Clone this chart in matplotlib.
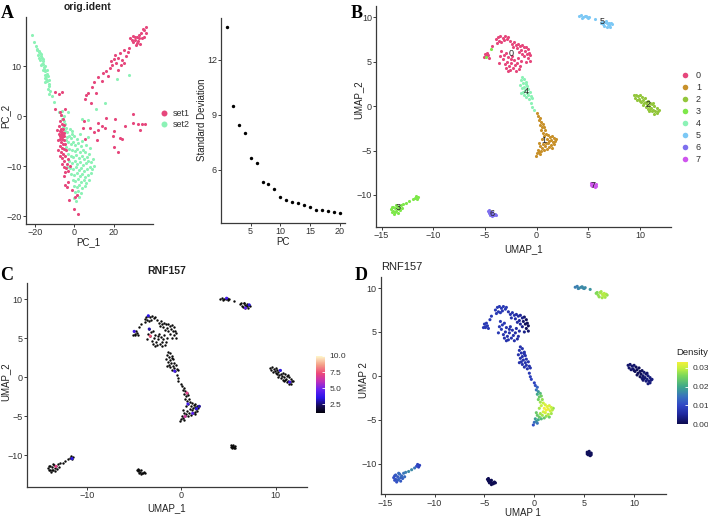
import numpy as np
import matplotlib
matplotlib.use('Agg')
import matplotlib.pyplot as plt
from matplotlib.colors import LinearSegmentedColormap, Normalize
from matplotlib.cm import ScalarMappable
from matplotlib.lines import Line2D

plt.rcParams['font.family'] = ['Liberation Sans', 'DejaVu Sans']

# ---------------- DATA ----------------
# Panel A (PCA) - set1 / set2 cells: (PC_1, PC_2)
set1_pts = [
    (36.5, 17.8), (35.2, 17.2), (36.2, 16.6), (34.0, 16.6), (35.5, 15.9), (33.0, 15.6), (31.0, 15.3),
    (32.2, 15.0), (30.0, 14.8), (33.2, 14.5), (31.5, 14.2), (29.2, 15.2), (34.3, 15.6), (28.5, 15.6),
    (32.6, 16.3), (30.6, 15.8), (31.8, 15.9), (30.0, 16.0), (34.8, 17.5), (32.0, 14.6),
    (27.5, 13.6), (25.0, 13.2), (23.0, 12.6), (26.2, 12.1), (22.0, 11.6), (24.0, 11.2), (20.2, 11.5),
    (21.0, 10.6), (19.0, 10.2), (25.2, 10.6), (18.0, 9.6), (16.0, 9.1), (22.0, 9.2), (14.5, 8.6),
    (17.0, 8.0), (12.2, 7.8), (14.0, 7.0), (10.2, 6.8), (9.0, 5.8), (7.0, 4.6), (5.5, 3.5), (8.4, 2.6),
    (11.0, 4.6), (6.2, 4.2), (20.5, 12.3), (23.6, 10.2), (27.0, 12.8), (18.6, 11.0),
    (4.7, -2.4), (4.9, -1.0), (8.1, -2.4), (9.8, -3.1), (12.0, -2.8), (12.3, -1.3), (11.4, -4.8),
    (5.6, -4.5), (15.7, -2.3), (16.2, -0.3), (20.8, -0.6), (20.4, -2.9), (24.1, -4.5), (25.5, -2.0),
    (20.4, -6.1), (22.4, -7.1), (23.3, -4.4), (19.9, -4.0), (30.0, 0.4), (29.6, -1.3), (32.3, -1.6),
    (34.2, -1.5), (36.0, -1.5), (33.4, -2.8), (14.0, -1.9),
    (-9.5, 4.9), (-7.5, 4.4), (-6.0, 4.8), (-9.6, 1.5), (-7.0, 0.9), (-4.5, 1.4),
    (-6.5, 0.2), (-5.5, -0.5), (-7.0, -1.0), (-6.0, -1.5), (-5.0, -1.8), (-7.5, -2.0), (-6.8, -2.5),
    (-5.8, -2.6), (-7.2, -3.0), (-6.2, -3.2), (-5.3, -3.3), (-7.6, -3.5), (-6.6, -3.6), (-5.6, -3.8),
    (-7.0, -4.0), (-6.0, -4.2), (-5.0, -4.0), (-7.4, -4.5), (-6.4, -4.6), (-5.4, -4.8), (-6.8, -5.2),
    (-5.8, -5.5), (-4.8, -5.6), (-7.2, -6.0), (-6.2, -6.4), (-5.2, -6.5), (-8.0, -6.8), (-6.6, -7.2),
    (-5.6, -7.5), (-7.4, -8.0), (-4.6, -8.0), (-6.0, -8.4), (-5.0, -9.0), (-3.8, -9.5), (-6.4, -9.6),
    (-4.2, -10.4), (-5.4, -10.2), (-3.2, -11.0), (-4.5, -11.1), (-5.2, -12.0), (-2.9, -13.1),
    (-4.9, -13.8), (-1.2, -14.8), (-2.5, -16.8), (0.5, -16.1), (1.4, -15.8), (0.0, -18.6), (1.7, -19.5),
    (-3.5, -14.2), (-8.5, -2.8), (-8.2, -4.8), (-4.0, -6.8), (-3.2, -8.6), (-2.2, -10.0),
]
set2_pts = [
    (-21.5, 16.2), (-20.3, 14.8), (-19.2, 14.0), (-18.6, 13.4), (-18.0, 13.0), (-17.4, 12.6), (-18.4, 12.2),
    (-17.0, 12.0), (-16.4, 11.6), (-17.2, 11.2), (-16.0, 11.0), (-15.6, 10.5), (-16.8, 10.2), (-15.0, 10.0),
    (-15.2, 9.5), (-14.6, 9.0), (-16.0, 9.2), (-14.0, 8.5), (-15.0, 8.2), (-13.5, 8.0), (-14.2, 7.5),
    (-13.6, 7.0), (-13.0, 6.5), (-14.6, 6.8), (-12.6, 6.0), (-13.2, 5.5), (-12.2, 5.0), (-12.6, 4.5),
    (-11.2, 4.0), (-17.8, 12.8), (-16.6, 12.4), (-15.8, 11.4), (-15.4, 9.8), (-14.4, 8.0), (-13.8, 9.2),
    (-12.8, 7.2), (-19.0, 13.2), (-17.6, 11.6), (-16.2, 10.4), (-14.8, 7.6), (-10.2, 2.8),
    (-7.8, 0.8), (-6.8, 0.2), (-6.0, -0.6), (-5.2, -1.0), (-4.6, -1.6), (-5.6, -2.2), (-4.0, -2.4),
    (-4.8, -3.0), (-3.4, -3.2), (-2.2, -2.6), (-1.0, -3.0), (-5.0, 0.0), (-6.2, 1.0),
    (-3.8, -4.2), (-2.6, -4.0), (-1.4, -4.4), (0.0, -4.0), (1.2, -4.6), (-3.0, -5.2), (-1.8, -5.6),
    (-0.6, -5.2), (0.6, -5.8), (2.0, -5.4), (3.2, -6.0), (-4.0, -6.2), (-2.4, -6.6), (-1.0, -6.8),
    (0.4, -7.0), (1.6, -6.6), (3.0, -7.2), (4.4, -6.8), (5.6, -7.2), (-3.2, -7.6), (-1.8, -8.0),
    (-0.4, -8.2), (1.0, -7.8), (2.4, -8.4), (3.8, -8.0), (5.0, -8.6), (6.4, -8.2), (7.6, -7.6),
    (-2.8, -9.0), (-1.2, -9.4), (0.2, -9.0), (1.6, -9.6), (3.0, -9.2), (4.4, -9.8), (5.8, -9.4),
    (7.0, -9.0), (8.4, -9.2), (-2.0, -10.4), (-0.6, -10.6), (0.8, -10.2), (2.2, -10.8), (3.6, -10.4),
    (5.0, -11.0), (6.4, -10.6), (7.8, -10.2), (9.2, -10.6), (-1.4, -11.6), (0.0, -11.8), (1.4, -11.4),
    (2.8, -12.0), (4.2, -11.6), (5.6, -12.2), (7.0, -11.8), (8.6, -11.4), (-0.8, -12.8), (0.6, -13.0),
    (2.0, -12.6), (3.4, -13.2), (4.8, -12.8), (6.2, -13.4), (7.6, -12.8), (-0.2, -14.0), (1.2, -14.2),
    (2.6, -13.8), (4.0, -14.4), (5.4, -14.0), (0.4, -15.2), (1.8, -15.0), (3.2, -15.4), (0.0, -16.4),
    (1.0, -17.0), (2.2, -16.2), (6.0, -5.8), (4.0, -5.0), (9.6, -8.6), (10.2, -10.0), (8.0, -6.4),
    (-3.6, -10.2), (-1.0, -3.6), (6.8, -4.2), (-4.4, -4.8), (2.8, -3.6),
    (21.6, 7.4), (27.5, 8.2), (15.4, 2.7), (11.1, 1.4), (6.9, -0.8), (3.9, -0.6), (-3.0, 0.8),
]

# Panel A (elbow) - standard deviation of PCs 1..20
pcs = list(range(1, 21))
pc_sd = [13.8, 9.51, 8.45, 8.03, 6.65, 6.38, 5.33, 5.25, 4.95, 4.51,
         4.35, 4.27, 4.20, 4.11, 3.96, 3.82, 3.83, 3.78, 3.73, 3.64]

# UMAP clusters: (UMAP_1, UMAP_2, RNF157 density)
c0 = [(-3.9, 7.5, .008), (-3.7, 7.8, .008), (-3.5, 7.9, .008), (-3.3, 7.7, .008), (-3.1, 7.9, .008),
      (-2.9, 7.6, .008), (-3.6, 7.3, .008), (-3.2, 7.4, .008), (-2.8, 7.8, .008), (-3.8, 7.1, .008),
      (-3.4, 7.2, .008),
      (-2.6, 7.3, .007), (-2.4, 7.0, .007), (-2.2, 7.2, .007), (-2.0, 6.9, .007), (-1.8, 7.0, .006),
      (-1.6, 6.8, .006), (-1.4, 6.9, .005), (-1.2, 6.6, .004), (-1.0, 6.7, .002), (-0.8, 6.4, .001),
      (-2.3, 6.6, .007), (-1.9, 6.5, .006), (-1.5, 6.3, .005), (-1.1, 6.2, .002), (-0.7, 6.0, .001),
      (-0.6, 5.7, .001), (-0.9, 5.9, .001), (-0.8, 5.4, .001), (-1.2, 5.6, .004), (-0.6, 5.1, .002),
      (-1.0, 5.0, .004), (-1.4, 5.9, .005), (-1.7, 6.1, .006),
      (-3.4, 6.2, .008), (-3.2, 5.8, .008), (-3.0, 6.0, .008), (-2.8, 5.5, .007), (-3.3, 5.3, .008),
      (-3.5, 5.6, .008), (-2.9, 5.0, .007), (-3.1, 4.7, .007), (-2.7, 4.5, .007), (-2.5, 4.9, .007),
      (-2.3, 4.3, .007), (-2.6, 4.1, .007), (-2.1, 4.6, .007), (-1.9, 4.9, .006), (-2.2, 5.2, .007),
      (-1.8, 5.4, .006), (-1.6, 4.5, .006), (-2.0, 4.0, .007), (-1.5, 5.1, .006), (-2.4, 5.6, .007),
      (-3.6, 4.9, .008), (-3.0, 4.3, .007), (-2.8, 4.0, .007), (-1.7, 4.2, .006), (-2.5, 5.3, .007),
      (-5.0, 5.9, .008), (-4.9, 5.6, .008), (-4.8, 6.0, .008), (-4.7, 5.7, .008), (-5.1, 5.5, .008),
      (-4.6, 5.4, .008), (-4.3, 6.8, .008)]
c1 = [(0.0, -0.8, .009), (0.1, -1.1, .011), (0.3, -1.3, .013), (0.2, -1.6, .015), (0.4, -1.8, .018),
      (0.3, -2.1, .020), (0.6, -2.0, .022), (0.5, -2.4, .024), (0.7, -2.3, .025), (0.4, -2.7, .025),
      (0.8, -2.7, .027), (0.6, -3.0, .028), (0.9, -3.1, .030), (1.1, -3.3, .031), (0.7, -3.4, .030),
      (1.3, -3.5, .032), (1.5, -3.4, .031), (1.7, -3.6, .030), (1.8, -3.9, .029), (1.6, -4.0, .030),
      (1.4, -3.8, .032), (1.2, -3.9, .033), (1.0, -3.7, .033), (1.7, -4.3, .028), (1.4, -4.4, .029),
      (1.1, -4.2, .031), (0.9, -4.1, .031), (1.2, -4.6, .027), (0.8, -4.5, .028), (0.6, -4.3, .028),
      (0.5, -4.7, .024), (0.3, -4.5, .024), (0.7, -4.9, .022), (0.4, -5.0, .020), (0.2, -5.2, .017),
      (0.1, -4.9, .019), (0.3, -5.4, .015), (0.0, -5.3, .014), (-0.1, -5.6, .011), (1.9, -3.7, .027),
      (1.5, -4.7, .025), (1.0, -4.8, .024), (0.5, -3.7, .028), (0.2, -4.2, .024)]
c2 = [(9.4, 1.2, .002), (9.6, 1.3, .002), (9.8, 1.1, .002), (9.5, 0.9, .002), (10.0, 1.2, .002),
      (10.2, 1.0, .001), (9.9, 0.8, .002), (10.3, 0.7, .001), (10.5, 0.9, .001), (10.1, 0.5, .001),
      (10.6, 0.5, .001), (10.4, 0.3, .001), (10.8, 0.6, .001), (10.7, 0.2, .001), (11.0, 0.4, .002),
      (10.9, 0.0, .002), (11.2, 0.2, .002), (11.1, -0.2, .002), (11.4, 0.0, .003), (11.3, -0.4, .003),
      (11.6, -0.2, .003), (11.5, -0.6, .003), (11.7, -0.5, .003), (11.2, -0.6, .003), (11.0, -0.3, .002),
      (10.6, -0.1, .001), (10.3, 0.1, .001), (11.6, -0.8, .003), (11.4, -0.9, .003), (10.9, -0.5, .002),
      (11.8, -0.4, .003), (10.0, 0.6, .001), (9.7, 0.7, .002), (10.8, -0.3, .002), (11.3, 0.3, .002)]
c3 = [(-14.1, -11.6, .011), (-14.0, -11.9, .011), (-13.9, -11.3, .012), (-13.8, -12.1, .011),
      (-13.7, -11.5, .012), (-13.6, -11.8, .013), (-13.5, -11.2, .014), (-13.4, -12.0, .012),
      (-13.3, -11.4, .014), (-13.2, -11.7, .013), (-13.9, -11.8, .011), (-13.6, -11.1, .014),
      (-13.1, -11.1, .015), (-13.0, -11.5, .014), (-12.9, -11.0, .016), (-12.6, -10.9, .017),
      (-12.3, -10.7, .017), (-12.0, -10.5, .015), (-11.8, -10.3, .010), (-11.6, -10.4, .009),
      (-11.5, -10.2, .009), (-11.7, -10.1, .009), (-13.7, -11.9, .012), (-14.0, -11.4, .011),
      (-13.4, -11.6, .013), (-4.45, 6.4, .008), (-4.9, 5.5, .008)]
c4 = [(-1.4, 3.3, .007), (-1.2, 3.1, .007), (-1.5, 2.9, .007), (-1.3, 2.6, .007), (-1.0, 2.7, .007),
      (-1.6, 2.4, .007), (-1.2, 2.2, .007), (-0.9, 2.3, .007), (-1.4, 2.0, .007), (-1.1, 1.8, .007),
      (-0.8, 1.9, .007), (-1.3, 1.6, .007), (-0.9, 1.5, .007), (-0.6, 1.6, .007), (-1.2, 1.3, .007),
      (-0.8, 1.2, .007), (-0.5, 1.1, .007), (-1.0, 1.0, .007), (-0.7, 0.8, .007), (-0.4, 0.9, .007),
      (-1.5, 1.5, .007), (-1.0, 2.5, .007), (-0.5, 0.3, .008), (-0.4, -0.1, .009), (-0.3, -0.4, .009)]
c5 = [(4.1, 10.1, .016), (4.3, 10.2, .016), (4.5, 10.0, .017), (4.7, 10.1, .017), (4.9, 10.0, .017),
      (5.1, 10.05, .017), (4.4, 9.95, .016), (4.8, 10.15, .017), (5.0, 9.95, .017), (5.6, 9.85, .018),
      (6.2, 9.4, .026), (6.4, 9.2, .027), (6.6, 9.5, .028), (6.8, 9.3, .029), (7.0, 9.4, .029),
      (7.2, 9.3, .028), (7.3, 9.2, .027), (6.5, 9.0, .027), (6.8, 8.9, .028), (7.0, 9.1, .029),
      (6.7, 9.6, .028), (6.3, 9.5, .026), (6.9, 9.2, .029), (7.1, 8.95, .028)]
c6 = [(-4.7, -11.8, .0005), (-4.6, -12.0, .0005), (-4.5, -11.9, .0005), (-4.4, -12.1, .0005),
      (-4.3, -11.9, .0005), (-4.2, -12.2, .0005), (-4.1, -12.3, .0005), (-4.0, -12.1, .0005),
      (-4.5, -12.2, .0005), (-4.3, -12.4, .0005), (-4.6, -11.7, .0005), (-3.9, -12.2, .0005)]
c7 = [(5.3, -8.7, .001), (5.4, -8.8, .001), (5.5, -8.6, .001), (5.6, -8.9, .001), (5.7, -8.8, .001),
      (5.4, -9.0, .001), (5.6, -9.1, .001), (5.5, -8.9, .001), (5.3, -8.9, .001), (5.7, -9.0, .001)]
clusters = [c0, c1, c2, c3, c4, c5, c6, c7]
cluster_names = ['0', '1', '2', '3', '4', '5', '6', '7']
cluster_colors = ['#E6477C', '#C8912B', '#93C63C', '#7EE84A', '#8CF2B6', '#7CC8F5', '#7E70EE', '#CF55EE']

# RNF157 expression of expressing cells: (cluster, cell index, value); all others 0
rnf157_expr = [(0, 2, 3.5), (0, 59, 4.0), (0, 38, 7.5), (0, 34, 3.0),
               (1, 6, 7.0), (1, 14, 4.0), (1, 19, 3.5), (1, 27, 4.5), (1, 39, 3.0), (1, 33, 6.5),
               (2, 8, 3.5), (2, 21, 4.0), (3, 8, 7.0), (3, 19, 3.5), (4, 18, 4.0),
               (5, 7, 4.0), (5, 18, 4.5), (5, 15, 3.5)]

# ---------------- FIGURE ----------------
W, H = 708, 518
fig = plt.figure(figsize=(W / 100, H / 100), dpi=100)
fig.patch.set_facecolor('white')


def ax_px(l, t, r, b):
    return fig.add_axes([l / W, 1 - b / H, (r - l) / W, (b - t) / H])


def ftext(x, y, s, **kw):
    kw.setdefault('ha', 'center')
    kw.setdefault('va', 'center')
    fig.text(x / W, 1 - y / H, s, **kw)


def style(ax):
    for s in ['top', 'right']:
        ax.spines[s].set_visible(False)
    for s in ['left', 'bottom']:
        ax.spines[s].set_color('#3a3a3a')
        ax.spines[s].set_linewidth(0.9)
    ax.tick_params(labelsize=6.5, colors='#3a3a3a', labelcolor='#333333',
                   length=2.0, width=0.7, pad=1.2)


TXT = '#222222'

# ---- Panel A left: PCA ----
axA = ax_px(26, 16.5, 153, 223.5)
style(axA)
s2 = np.array(set2_pts)
s1 = np.array(set1_pts)
axA.scatter(s2[:, 0], s2[:, 1], s=5, c='#8CF2B6', linewidths=0)
axA.scatter(s1[:, 0], s1[:, 1], s=5, c='#E6477C', linewidths=0)
axA.set_xlim(-24.4, 39.9)
axA.set_ylim(-21.5, 19.9)
axA.set_xticks([-20, 0, 20])
axA.set_yticks([-20, -10, 0, 10])
ftext(88, 7, 'orig.ident', fontsize=7.5, fontweight='bold', color=TXT)
ftext(88, 242, 'PC_1', fontsize=7, color=TXT)
ftext(5, 116, 'PC_2', fontsize=7, color=TXT, rotation=90)
hA = [Line2D([], [], marker='o', ls='', color=c, markersize=4.3, markeredgewidth=0)
      for c in ['#E6477C', '#8CF2B6']]
fig.legend(hA, ['set1', 'set2'], loc='upper left', bbox_to_anchor=(160.7 / W, 1 - 109.5 / H),
           frameon=False, fontsize=6.5, handlelength=0.8, handletextpad=0.5,
           labelspacing=0.22, borderpad=0, borderaxespad=0, labelcolor='#333333')

# ---- Panel A right: elbow ----
axE = ax_px(221.3, 17.8, 345.2, 222.6)
style(axE)
axE.scatter(pcs, pc_sd, s=6, c='black', linewidths=0)
axE.set_xlim(0.05, 20.95)
axE.set_ylim(3.13, 14.3)
axE.set_xticks([5, 10, 15, 20])
axE.set_yticks([6, 9, 12])
ftext(283, 242, 'PC', fontsize=7, color=TXT)
ftext(202, 120, 'Standard Deviation', fontsize=7, color=TXT, rotation=90)


def umap_axis(ax, xl, yl, xt, yt):
    style(ax)
    ax.set_xlim(*xl)
    ax.set_ylim(*yl)
    ax.set_xticks(xt)
    ax.set_yticks(yt)


# ---- Panel B: clusters ----
axB = ax_px(376.4, 6.5, 671, 227)
umap_axis(axB, (-15.5, 13), (-13.6, 11.2), [-15, -10, -5, 0, 5, 10], [-10, -5, 0, 5, 10])
for pts, col in zip(clusters, cluster_colors):
    a = np.array(pts)
    axB.scatter(a[:, 0], a[:, 1], s=5, c=col, linewidths=0)
for pts, name in zip(clusters, cluster_names):
    a = np.array(pts)
    if name == '3':
        a = a[:-2]
    axB.text(np.median(a[:, 0]), np.median(a[:, 1]), name, fontsize=6.5,
             ha='center', va='center', color='#222222')
ftext(524, 249, 'UMAP_1', fontsize=7, color=TXT)
ftext(358, 100, 'UMAP_2', fontsize=7, color=TXT, rotation=90)
hB = [Line2D([], [], marker='o', ls='', color=c, markersize=4.0, markeredgewidth=0)
      for c in cluster_colors]
fig.legend(hB, cluster_names, loc='upper left', bbox_to_anchor=(681.4 / W, 1 - 71.5 / H),
           frameon=False, fontsize=6.5, handlelength=0.8, handletextpad=0.8,
           labelspacing=0.33, borderpad=0, borderaxespad=0, labelcolor='#333333')

# ---- Panel C: RNF157 expression ----
cmapC = LinearSegmentedColormap.from_list('rnf', [
    (0.0, '#000008'), (0.12, '#140a50'), (0.27, '#2a14e6'), (0.42, '#6a22f0'),
    (0.56, '#c030b8'), (0.7, '#ee4a78'), (0.85, '#f4a088'), (1.0, '#fff8cc')])
normC = Normalize(1.07, 10.0)
axC = ax_px(26.7, 283, 306.7, 486.7)
umap_axis(axC, (-16.4, 13.3), (-14.0, 12.1), [-10, 0, 10], [-10, -5, 0, 5, 10])
allpts = np.vstack([np.array(p)[:, :2] for p in clusters])
axC.scatter(allpts[:, 0], allpts[:, 1], s=3, c='#0a0a0a', linewidths=0)
ex = np.array([(clusters[ci][k][0], clusters[ci][k][1], v) for ci, k, v in rnf157_expr])
axC.scatter(ex[:, 0], ex[:, 1], s=5, c=ex[:, 2], cmap=cmapC, norm=normC, linewidths=0)
ftext(166.7, 271, 'RNF157', fontsize=7.5, fontweight='bold', color=TXT)
ftext(166.7, 508, 'UMAP_1', fontsize=7, color=TXT)
ftext(5, 382, 'UMAP_2', fontsize=7, color=TXT, rotation=90)
caxC = ax_px(315.7, 356, 325, 413.3)
cbC = fig.colorbar(ScalarMappable(normC, cmapC), cax=caxC, ticks=[2.5, 5.0, 7.5, 10.0])
cbC.outline.set_visible(False)
cbC.ax.set_yticklabels(['2.5', '5.0', '7.5', '10.0'])
caxC.tick_params(labelsize=6, length=2, width=0.6, color='white', direction='in',
                 labelcolor='#333333', pad=3)

# ---- Panel D: density ----
cmapD = LinearSegmentedColormap.from_list('dens', [
    (0.0, '#0c0a4c'), (0.15, '#1e269a'), (0.3, '#3046c6'), (0.45, '#3a74bc'),
    (0.6, '#3ea88a'), (0.78, '#7cd85a'), (0.9, '#c6f040'), (1.0, '#f4f03a')])
normD = Normalize(0.0, 0.0332)
axD = ax_px(380.7, 276.7, 666, 494.3)
umap_axis(axD, (-15.4, 13.2), (-13.5, 11.3), [-15, -10, -5, 0, 5, 10], [-10, -5, 0, 5, 10])
alld = np.vstack([np.array(p) for p in clusters])
order = np.argsort(alld[:, 2])
axD.scatter(alld[order, 0], alld[order, 1], s=5, c=alld[order, 2], cmap=cmapD, norm=normD,
            linewidths=0)
ftext(381, 266.7, 'RNF157', fontsize=8, color=TXT, ha='left')
ftext(523, 513, 'UMAP 1', fontsize=7, color=TXT)
ftext(364, 380, 'UMAP 2', fontsize=7, color=TXT, rotation=90)
caxD = ax_px(676.7, 361.7, 688, 424.3)
cbD = fig.colorbar(ScalarMappable(normD, cmapD), cax=caxD, ticks=[0.0, 0.01, 0.02, 0.03])
cbD.outline.set_visible(False)
cbD.ax.set_yticklabels(['0.00', '0.01', '0.02', '0.03'])
caxD.tick_params(labelsize=6, length=2, width=0.6, color='white', direction='in',
                 labelcolor='#333333', pad=3)
ftext(676, 352.5, 'Density', fontsize=6.8, color=TXT, ha='left')

# ---- panel letters ----
for (x, y, s) in [(7.7, 13.3, 'A'), (356.5, 13.3, 'B'), (7, 275, 'C'), (361, 276, 'D')]:
    ftext(x, y, s, fontsize=13, fontweight='bold', family=['Liberation Serif', 'DejaVu Serif'],
          color='black')

fig.savefig('out.png', dpi=100, facecolor='white')
